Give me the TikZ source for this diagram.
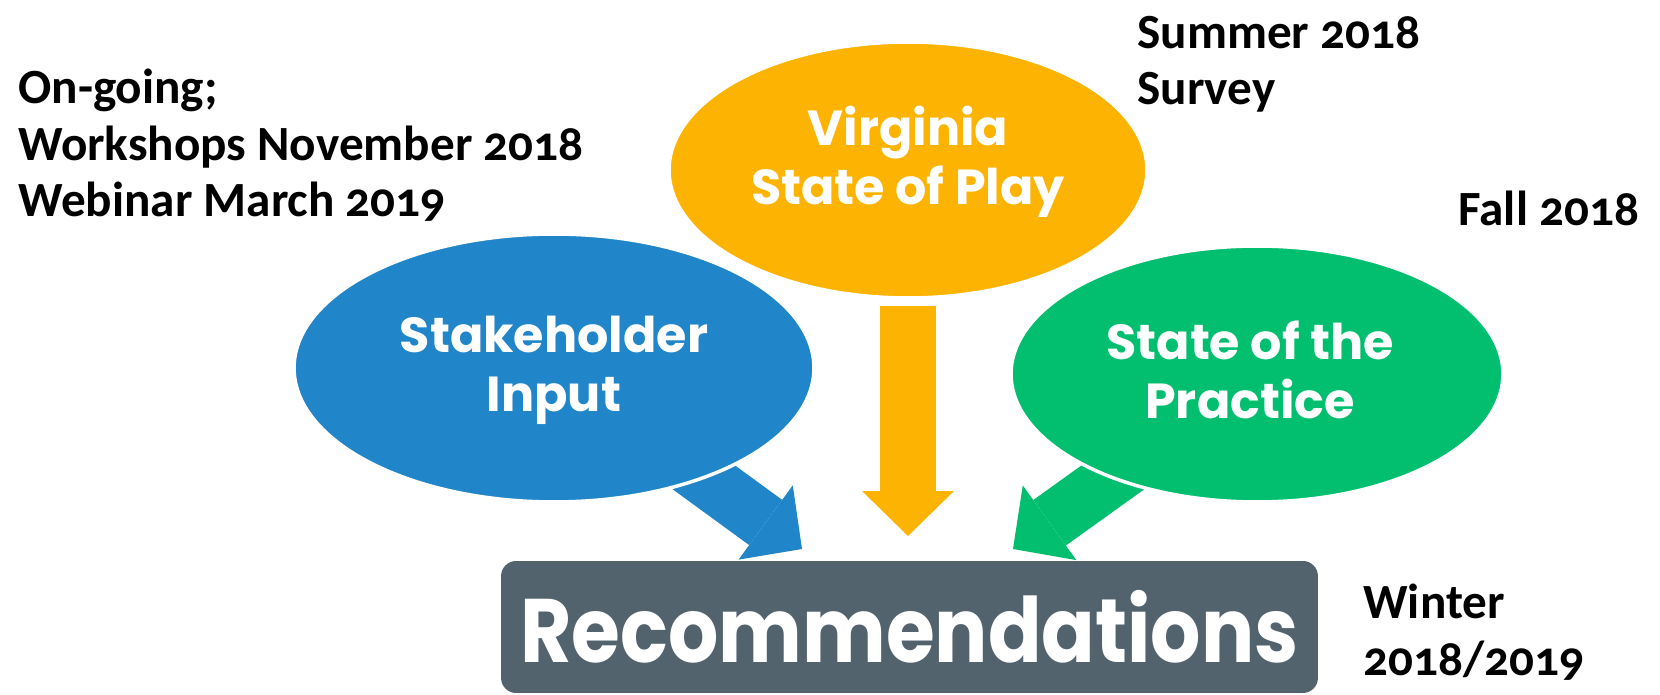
\documentclass[tikz,border=0pt]{standalone}
\usepackage{fontspec}
\setmainfont{Carlito}[Numbers=OldStyle]
\newfontfamily\gothicFont{Poppins}
\usepackage{tikz}
\usetikzlibrary{shapes,arrows.meta,backgrounds}
\definecolor{vaBlue}{HTML}{2186C9}
\definecolor{vaYellow}{HTML}{FDB301}
\definecolor{vaGreen}{HTML}{02BF6F}
\definecolor{vaSlate}{HTML}{52636E}
\begin{document}
\begin{tikzpicture}[x=0.02cm, y=-0.02cm,
  bubble/.style={ellipse, draw=white, line width=0.07cm, inner sep=0pt},
  bubbletext/.style={text=white, align=center, inner sep=0pt, font=\gothicFont\bfseries\fontsize{28}{33.5}\selectfont},
  note/.style={anchor=base west, align=left, inner sep=0pt, font=\bfseries\fontsize{28}{32.3}\selectfont},
  blockarrow/.style={line width=1.12cm, -{Triangle[width=1.84cm,length=0.9cm,line width=0pt]}}]
  \useasboundingbox (0,0) rectangle (1660,695);

  \node [bubble,fill=vaBlue,minimum width=10.4cm,minimum height=5.36cm] (blu) at (554,368) {};
  \node [bubble,fill=vaGreen,minimum width=9.84cm,minimum height=5.12cm] (grn) at (1257,374) {};
  \node [bubble,fill=vaYellow,minimum width=9.56cm,minimum height=5.12cm] (yel) at (908,170) {};
  \node [bubbletext] (stkText) at (554,370) {Stakeholder\\Input};
  \node [bubbletext] (vspText) at (908,162) {Virginia\\State of Play};
  \node [bubbletext] (sopText) at (1250,370) {State of the\\Practice};

  \node [fill=vaSlate,rounded corners=0.3cm,inner sep=0pt,minimum width=16.34cm,minimum height=2.64cm,text=white,
    font=\gothicFont\bfseries\fontsize{45}{48}\selectfont] (rec) at (909.5,627) {\scalebox{1}[1.14]{Recommendations}};

  \coordinate (bluTip) at (802,549);
  \coordinate (yelTip) at (908,536);
  \coordinate (grnTip) at (1013,549);
  \begin{scope}[on background layer]
    \draw [blockarrow,vaBlue] (blu.center) -- (bluTip);
    \draw [blockarrow,vaYellow,shorten <=0.12cm] (yel.south) -- (yelTip);
    \draw [blockarrow,vaGreen] (grn.center) -- (grnTip);
  \end{scope}

  \node [note] (ongoing) at (18,217) {On-going;\\Workshops November 2018\\Webinar March 2019};
  \node [note] (summer) at (1137,105) {Summer 2018\\Survey};
  \node [note] (fall) at (1458,226) {Fall 2018};
  \node [note] (winter) at (1363,675) {Winter\\2018/2019};
\end{tikzpicture}
\end{document}
